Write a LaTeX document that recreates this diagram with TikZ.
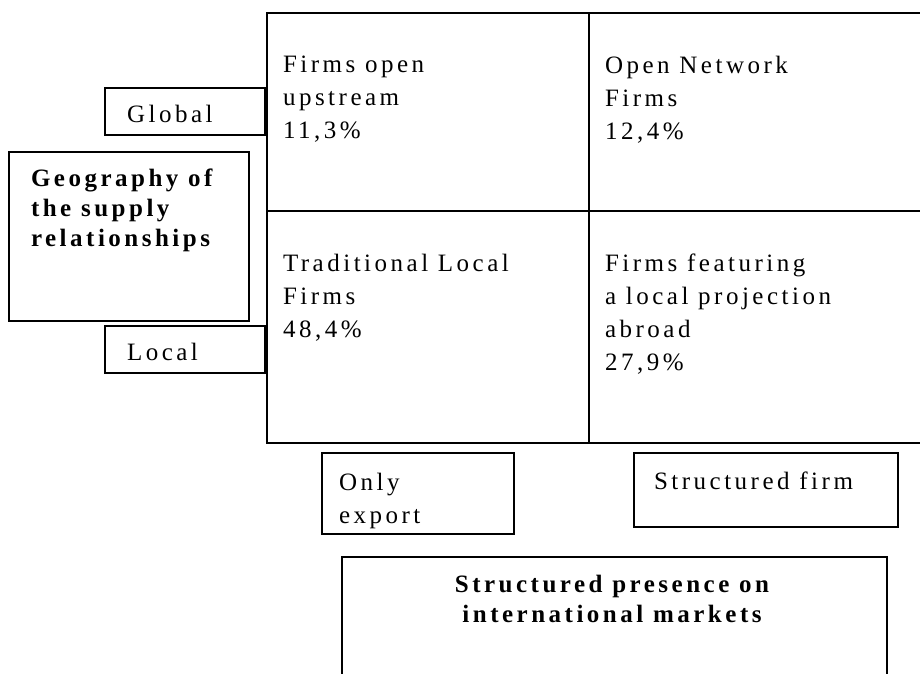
\documentclass[tikz,border=0pt]{standalone}
\usepackage{fontspec}
\setmainfont{Liberation Serif}[LetterSpace=14]
\usetikzlibrary{positioning}

\begin{document}
\begin{tikzpicture}[
        x=1pt, y=-1pt,
        line width=2pt,
        plain/.style={anchor=north west, inner sep=0pt, align=left, font=\fontsize{25}{33}\selectfont},
        bold/.style={inner sep=0pt, align=center, font=\fontsize{25}{30}\selectfont\bfseries},
    ]
        \useasboundingbox (0,0) rectangle (920,673);
        \clip (0,0) rectangle (920,673);

        % Four quadrants
        \draw (267,13) rectangle (960,443);
        \draw (589,13) -- (589,443);
        \draw (267,211) -- (960,211);

        \node[plain] (upstream) at (282,55) {Firms open\\upstream\\11,3\%};
        \node[plain] (network) at (604,55) {Open Network\\Firms\\12,4\%};
        \node[plain] (traditional) at (282,253) {Traditional Local\\Firms\\48,4\%};
        \node[plain] (projection) at (604,253) {Firms featuring\\a local projection\\abroad\\27,9\%};

        % Vertical axis
        \draw (105,88) rectangle (265,135);
        \node[plain, anchor=base west] (global) at (126,122) {Global};
        \draw (9,152) rectangle (249,321);
        \node[bold, anchor=north west, align=left] (geography) at (30,168) {Geography of\\the supply\\relationships};
        \draw (105,326) rectangle (265,373);
        \node[plain, anchor=base west] (local) at (126,360) {Local};

        % Horizontal axis
        \draw (322,453) rectangle (514,534);
        \node[plain] (export) at (338,472) {Only\\export};
        \draw (634,453) rectangle (898,527);
        \node[plain, anchor=base west] (structured) at (653,489) {Structured firm};
        \draw (342,557) rectangle (887,700);
        \node[bold, anchor=north] (presence) at (612,574) {Structured presence on\\international markets};
    \end{tikzpicture}
\end{document}
